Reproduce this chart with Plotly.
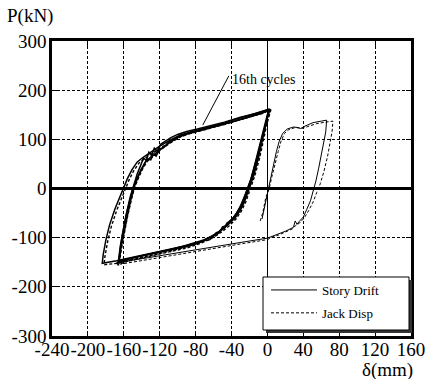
import plotly.graph_objects as go

# ---------------- data ----------------
# Repeated cycles ("16th cycles" band) - Story Drift (solid)
sd_cyc_a_x = [3, -2, -6, -10, -15, -20, -25, -30, -36, -43, -50, -58, -66, -75, -90, -110, -130, -150, -168, -184,
              -183, -180, -176, -170, -165, -160, -156, -151, -145, -138, -130, -120, -108, -97, -86, -75, -64, -50, -40, -24, -10, 3]
sd_cyc_a_y = [162, 130, 95, 62, 28, 0, -25, -44, -60, -72, -83, -93, -101, -108, -116, -124, -132, -140, -147, -152,
              -135, -105, -75, -42, -20, 0, 20, 38, 54, 64, 74, 86, 99, 109, 115, 120, 125, 132, 138, 147, 154, 162]
sd_cyc_b_x = [2, -3, -7, -12, -17, -22, -27, -33, -39, -46, -54, -62, -70, -80, -95, -115, -135, -152, -168,
              -166, -164, -162, -158, -154, -150, -146, -141, -136, -130, -120, -110, -100, -90, -78, -66, -52, -36, -20, -6, 2]
sd_cyc_b_y = [160, 125, 92, 55, 22, -5, -30, -48, -63, -75, -88, -97, -104, -110, -118, -127, -135, -142, -153,
              -150, -125, -98, -60, -28, 0, 18, 38, 54, 64, 78, 92, 104, 111, 117, 122, 129, 137, 146, 153, 160]
sd_cyc_c_x = [1, -4, -8, -13, -18, -24, -29, -35, -40, -45, -48, -52, -56, -60, -64, -70, -78, -88, -100, -120, -140, -160, -167,
              -165, -163, -160, -156, -152, -148, -143, -138, -134, -130, -127, -124, -120, -115, -110, -104, -96, -85, -72, -58, -42, -26, -12, 1]
sd_cyc_c_y = [158, 122, 88, 52, 20, -10, -33, -52, -64, -70, -80, -84, -94, -96, -104, -106, -112, -117, -121, -129, -137, -145, -150,
              -147, -120, -90, -55, -22, 5, 28, 46, 60, 58, 70, 66, 80, 84, 95, 100, 108, 114, 120, 126, 134, 143, 151, 158]
sd_cyc_d_x = [2, -3, -8, -14, -19, -25, -31, -37, -42, -46, -50, -53, -57, -61, -66, -72, -80, -92, -105, -125, -145, -162, -168,
              -166, -164, -161, -157, -153, -149, -145, -141, -138, -135, -132, -129, -126, -123, -119, -114, -108, -100, -90, -78, -64, -48, -30, -14, 2]
sd_cyc_d_y = [161, 124, 86, 48, 16, -14, -40, -58, -66, -76, -78, -88, -90, -99, -100, -108, -111, -118, -123, -131, -139, -147, -152,
              -149, -118, -86, -50, -18, 8, 30, 48, 62, 57, 74, 68, 82, 76, 90, 96, 103, 110, 116, 121, 127, 135, 145, 152, 161]

# Repeated cycles - Jack Disp (dashed)
jd_cyc_a_x = [4, -1, -5, -9, -14, -19, -24, -29, -35, -42, -50, -58, -66, -75, -90, -110, -130, -150, -166, -182,
              -181, -178, -174, -168, -163, -158, -154, -149, -143, -136, -128, -118, -106, -95, -84, -73, -62, -48, -38, -22, -8, 4]
jd_cyc_a_y = [161, 128, 93, 60, 26, -2, -27, -46, -62, -75, -87, -97, -105, -112, -121, -129, -137, -145, -152, -155,
              -138, -108, -78, -45, -22, -2, 18, 36, 52, 62, 72, 84, 97, 107, 113, 118, 123, 130, 136, 145, 152, 161]
jd_cyc_b_x = [2, -3, -8, -12, -17, -23, -28, -34, -40, -47, -55, -63, -72, -82, -97, -117, -137, -154, -167,
              -165, -163, -160, -156, -152, -148, -144, -139, -134, -128, -118, -108, -98, -88, -76, -64, -50, -34, -18, -5, 2]
jd_cyc_b_y = [159, 124, 90, 54, 20, -8, -32, -50, -65, -78, -90, -99, -107, -114, -122, -131, -139, -146, -156,
              -152, -126, -96, -58, -26, 2, 20, 40, 55, 65, 80, 93, 104, 111, 117, 122, 129, 137, 146, 153, 159]

# Final excursion
sd_final_x = [-6, -4, -1, 1, 4, 7, 10, 13, 17, 22, 29, 34, 37, 42, 51, 60, 66, 65, 63, 60, 57, 54, 51, 48, 44, 40,
              35, 33, 31, 29, 20, 12, 6, 0, -24, -53, -90, -127, -164]
sd_final_y = [-62, -45, -15, 0, 25, 50, 75, 95, 112, 121, 125, 124, 122, 127, 134, 137, 139, 115, 95, 70, 40, 15, -3, -25, -42, -58,
              -68, -73, -66, -79, -87, -93, -97, -101, -108, -117, -128, -139, -150]
jd_final_x = [-8, -5, -2, 2, 5, 9, 12, 15, 19, 24, 31, 36, 39, 45, 55, 65, 73, 72, 70, 67, 63, 59, 55, 51, 46, 41,
              36, 31, 28, 20, 12, 5, 0, -24, -53, -90, -127, -164]
jd_final_y = [-66, -48, -20, 0, 24, 50, 75, 95, 112, 120, 124, 123, 122, 126, 132, 135, 137, 115, 95, 65, 35, 10, -8, -27, -45, -60,
              -70, -76, -82, -89, -95, -99, -104, -111, -120, -131, -143, -154]

series_names = ["Story Drift", "Jack Disp"]

x_tick_vals = [-240, -200, -160, -120, -80, -40, 0, 40, 80, 120, 160]
x_tick_text = ["-240", "-200", "-160", "-120", "-80", "-40", "0", "40", "80", "120", "160"]
y_tick_vals = [-300, -200, -100, 0, 100, 200, 300]
y_tick_text = ["-300", "-200", "-100", "0", "100", "200", "300"]

annot_text = "16th cycles"
annot_point = (-72, 129)
annot_line_end = (-43, 229)
annot_text_pos = (-42, 222)

# ---------------- figure ----------------
FONT = "Liberation Serif"
PW, PH = 359, 295  # plot area size in px
L, T = 52, 41
fig = go.Figure()

for cx, cy in [(sd_cyc_a_x, sd_cyc_a_y), (sd_cyc_b_x, sd_cyc_b_y), (sd_cyc_c_x, sd_cyc_c_y), (sd_cyc_d_x, sd_cyc_d_y)]:
    fig.add_trace(go.Scatter(x=cx, y=cy, mode="lines", showlegend=False,
                             line=dict(color="black", width=1.5), hoverinfo="skip"))
for cx, cy in [(jd_cyc_a_x, jd_cyc_a_y), (jd_cyc_b_x, jd_cyc_b_y)]:
    fig.add_trace(go.Scatter(x=cx, y=cy, mode="lines", showlegend=False,
                             line=dict(color="black", width=1.4, dash="3px,2px"), hoverinfo="skip"))

fig.add_trace(go.Scatter(x=sd_final_x, y=sd_final_y, mode="lines", name=series_names[0],
                         legendgroup="a", line=dict(color="black", width=1)))
fig.add_trace(go.Scatter(x=jd_final_x, y=jd_final_y, mode="lines", name=series_names[1],
                         legendgroup="b", line=dict(color="black", width=1, dash="3px,2px")))

axis_common = dict(
    showline=True, linecolor="black", linewidth=2.5, mirror="ticks",
    ticks="inside", ticklen=5, tickwidth=1, tickcolor="black",
    showgrid=True, gridcolor="black", gridwidth=1, griddash="3px,2px",
    tickfont=dict(family=FONT, size=19, color="black"),
    automargin=False, tickangle=0,
)

fig.update_xaxes(range=[-240, 160], tickvals=x_tick_vals, ticktext=x_tick_text,
                 zeroline=True, zerolinecolor="black", zerolinewidth=1,
                 ticklabelstandoff=-6, **axis_common)
fig.update_yaxes(range=[-300, 300], tickvals=y_tick_vals, ticktext=y_tick_text,
                 zeroline=True, zerolinecolor="black", zerolinewidth=2.5,
                 ticklabelstandoff=-1, **axis_common)


def px_x(p):
    return (p - L) / PW


def px_y(p):
    return (T + PH - p) / PH


# legend box with shadow
bx0, bx1, by1, by0 = px_x(263), px_x(409), px_y(277), px_y(330)
sx, sy = 3 / PW, 3 / PH
fig.add_shape(type="rect", xref="paper", yref="paper", x0=bx0 + sx, x1=bx1 + sx, y0=by0 - sy, y1=by1 - sy,
              fillcolor="#333333", line=dict(width=0), layer="above")
fig.add_shape(type="rect", xref="paper", yref="paper", x0=bx0, x1=bx1, y0=by0, y1=by1,
              fillcolor="white", line=dict(color="black", width=1), layer="above")

# annotation leader line + text
fig.add_shape(type="line", xref="x", yref="y", x0=annot_point[0], y0=annot_point[1],
              x1=annot_line_end[0], y1=annot_line_end[1], line=dict(color="black", width=1), layer="above")
fig.add_annotation(x=annot_text_pos[0], y=annot_text_pos[1], xref="x", yref="y", text=annot_text,
                   showarrow=False, xanchor="left", yanchor="middle",
                   font=dict(family=FONT, size=14, color="black"))

# axis titles
fig.add_annotation(x=px_x(5), y=px_y(16), xref="paper", yref="paper", text="P(kN)",
                   showarrow=False, xanchor="left", yanchor="middle",
                   font=dict(family=FONT, size=19, color="black"))
fig.add_annotation(x=px_x(387), y=px_y(370), xref="paper", yref="paper", text="δ(mm)",
                   showarrow=False, xanchor="center", yanchor="middle",
                   font=dict(family=FONT, size=19, color="black"))

fig.update_layout(
    width=426, height=379,
    margin=dict(l=L, r=426 - L - PW, t=T, b=379 - T - PH),
    paper_bgcolor="white", plot_bgcolor="white",
    font=dict(family=FONT, color="black"),
    legend=dict(x=px_x(266), y=px_y(275), xanchor="left", yanchor="top",
                bgcolor="rgba(0,0,0,0)", borderwidth=0, itemwidth=46, tracegroupgap=3,
                font=dict(family=FONT, size=13, color="black")),
)

fig.write_html("out.html")
